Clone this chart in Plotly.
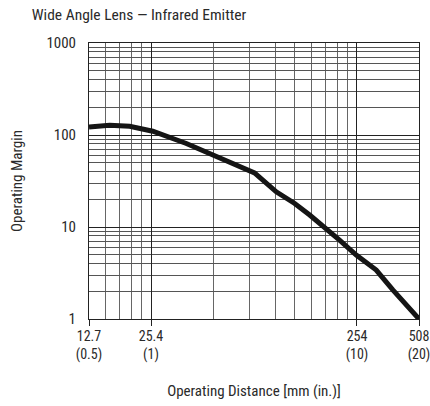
import plotly.graph_objects as go
import math

# data: operating distance (mm) vs operating margin
distance_mm = [12.7, 16.0, 20.0, 25.9, 37.7, 53.5, 80.8, 103, 126.6, 149.7, 180, 209, 252, 315, 380, 508]
margin = [122, 128, 124.6, 110, 80.9, 57, 38.8, 24.1, 18.0, 13.5, 9.66, 7.2, 4.95, 3.4, 2.06, 1.0]

x_tick_vals = [12.7, 25.4, 254, 508]
x_tick_text = ["12.7<br>(0.5)", "25.4<br>(1)", "254<br>(10)", "508<br>(20)"]
x_grid_inches = [0.6, 0.7, 0.8, 0.9, 2, 3, 4, 5, 6, 7, 8, 9]
y_tick_vals = [1, 10, 100, 1000]
y_tick_text = ["1", "10", "100", "1000"]

FONT = "Liberation Sans Narrow, Roboto Condensed, DejaVu Sans Condensed, Arial Narrow, sans-serif"

fig = go.Figure()
fig.add_trace(go.Scatter(
    x=distance_mm, y=margin, mode="lines",
    line=dict(color="#151515", width=5), showlegend=False,
))

fig.update_layout(
    width=430, height=406,
    margin=dict(l=89, r=11, t=43, b=87),
    paper_bgcolor="white", plot_bgcolor="white",
    font=dict(family=FONT, color="#2a2a2a", size=15),
    title=dict(text="Wide Angle Lens — Infrared Emitter", x=0.074, xanchor="left",
               y=0.963, yanchor="middle", font=dict(size=15.5, family=FONT, color="#2a2a2a")),
    xaxis=dict(
        type="log", range=[math.log10(12.7), math.log10(508)], automargin=False,
        tickmode="array", tickvals=x_tick_vals, ticktext=x_tick_text,
        ticks="outside", ticklen=6, tickcolor="#222", tickwidth=1,
        ticklabeloverflow="allow", ticklabelstandoff=-2,
        showgrid=True, gridcolor="#222", gridwidth=1,
        minor=dict(tickmode="array", tickvals=[v * 25.4 for v in x_grid_inches],
                   showgrid=True, gridcolor="#666", gridwidth=1, ticks=""),
        showline=True, linecolor="#222", linewidth=1, mirror=True,
        tickfont=dict(size=14),
        title=dict(text="Operating Distance [mm (in.)]", font=dict(size=15), standoff=23),
    ),
    yaxis=dict(
        type="log", range=[0, 3], automargin=False,
        tickmode="array", tickvals=y_tick_vals, ticktext=y_tick_text,
        ticks="", ticklabelstandoff=9,
        showgrid=True, gridcolor="#222", gridwidth=1,
        minor=dict(dtick="D1", showgrid=True, gridcolor="#555", gridwidth=1, ticks=""),
        showline=True, linecolor="#222", linewidth=1, mirror=True,
        tickfont=dict(size=15),
        title=dict(text="Operating Margin", font=dict(size=15), standoff=20),
    ),
)

fig.write_html("out.html", config={"displayModeBar": False},
               post_script="document.body.style.margin='0';")
